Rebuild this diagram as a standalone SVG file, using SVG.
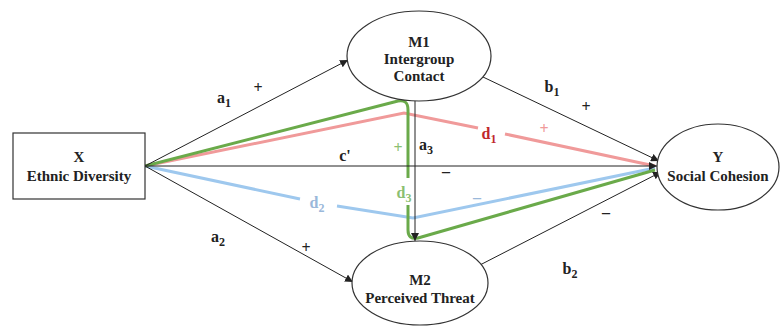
<svg xmlns="http://www.w3.org/2000/svg" width="780" height="326" viewBox="0 0 780 326">
<style>
.node{fill:#fff;stroke:#333;stroke-width:1.2}
.nt{font-family:"Liberation Serif",serif;font-weight:bold;font-size:15px;fill:#222;text-anchor:middle}
.lbl{font-family:"Liberation Serif",serif;font-weight:bold;font-size:16px;fill:#222;text-anchor:middle}
.sub{font-size:12px}
.blk{stroke:#222;stroke-width:1;fill:none}
.red{stroke:#f09a9a;stroke-width:3;fill:none}
.blue{stroke:#9ec8ee;stroke-width:3;fill:none}
.green{stroke:#6aaa4a;stroke-width:3;fill:none;stroke-linejoin:round}
</style>
<defs>
<marker id="ah" viewBox="0 0 10 10" refX="10" refY="5" markerWidth="8" markerHeight="8" orient="auto" markerUnits="userSpaceOnUse">
<path d="M0,0 L10,5 L0,10 z" fill="#222"/>
</marker>
</defs>
<rect width="780" height="326" fill="#fff"/>
<g id="connectors">
<path class="red" d="M145,166 L404,113 L478,128 M505,134 L655,166"/>
<path class="blue" d="M145,166 L300,199 M337,206 L413,218 L655,168"/>
<path class="green" d="M145,166 L398,101 Q408,99 408,110 L408,178 M408,205 L408,230 Q408,240 418,238 L655,170"/>
<line class="blk" x1="145" y1="166" x2="348" y2="60" marker-end="url(#ah)"/>
<line class="blk" x1="145" y1="166" x2="353" y2="282" marker-end="url(#ah)"/>
<line class="blk" x1="145" y1="166" x2="657" y2="166" marker-end="url(#ah)"/>
<line class="blk" x1="415" y1="101" x2="415" y2="241" marker-end="url(#ah)"/>
<line class="blk" x1="483" y1="77" x2="659" y2="161" marker-end="url(#ah)"/>
<line class="blk" x1="478" y1="266" x2="661" y2="172" marker-end="url(#ah)"/>
<text class="lbl" x="224" y="103">a<tspan class="sub" dy="4">1</tspan></text>
<text class="lbl" x="258" y="93">+</text>
<text class="lbl" x="218" y="242">a<tspan class="sub" dy="4">2</tspan></text>
<text class="lbl" x="306" y="253">+</text>
<text class="lbl" x="552" y="92">b<tspan class="sub" dy="4">1</tspan></text>
<text class="lbl" x="586" y="112">+</text>
<text class="lbl" x="570" y="274">b<tspan class="sub" dy="4">2</tspan></text>
<text class="lbl" x="606" y="218">–</text>
<text class="lbl" x="345" y="161">c'</text>
<text class="lbl" x="446" y="177">–</text>
<text class="lbl" x="426" y="150">a<tspan class="sub" dy="4">3</tspan></text>
<text class="lbl" x="489" y="139" style="fill:#c0282d">d<tspan class="sub" dy="4">1</tspan></text>
<text class="lbl" x="544" y="134" style="fill:#f09a9a">+</text>
<text class="lbl" x="317" y="208" style="fill:#9ab8da">d<tspan class="sub" dy="4">2</tspan></text>
<text class="lbl" x="477" y="203" style="fill:#9ab8da">–</text>
<text class="lbl" x="404" y="198" style="fill:#8cbf72">d<tspan class="sub" dy="4">3</tspan></text>
<text class="lbl" x="398" y="153" style="fill:#8cbf72">+</text>
</g>
<g id="X">
<rect class="node" x="13" y="133" width="132" height="66"/>
<text class="nt" x="79" y="162">X</text>
<text class="nt" x="79" y="181">Ethnic Diversity</text>
</g>
<g id="M1">
<ellipse class="node" cx="419" cy="56" rx="72" ry="45"/>
<text class="nt" x="419" y="47">M1</text>
<text class="nt" x="419" y="64">Intergroup</text>
<text class="nt" x="419" y="81">Contact</text>
</g>
<g id="M2">
<ellipse class="node" cx="420" cy="283" rx="68" ry="42"/>
<text class="nt" x="420" y="285">M2</text>
<text class="nt" x="420" y="303">Perceived Threat</text>
</g>
<g id="Y">
<ellipse class="node" cx="718" cy="167" rx="61" ry="43"/>
<text class="nt" x="718" y="162">Y</text>
<text class="nt" x="718" y="181">Social Cohesion</text>
</g>
</svg>
